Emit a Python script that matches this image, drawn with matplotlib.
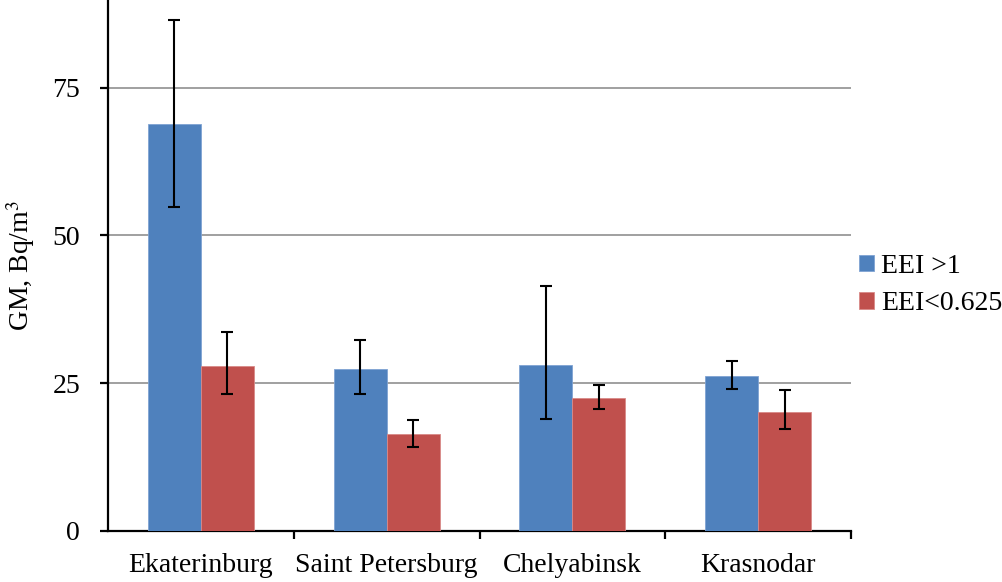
import numpy as np
import matplotlib

matplotlib.use("Agg")
import matplotlib.pyplot as plt

plt.rcParams["font.family"] = ["Liberation Serif", "DejaVu Serif"]
plt.rcParams["mathtext.fontset"] = "stix"

cities = ["Ekaterinburg", "Saint Petersburg", "Chelyabinsk", "Krasnodar"]
series_names = ["EEI >1", "EEI<0.625"]

gm_high = [68.8, 27.4, 28.0, 26.2]
gm_high_lo = [54.8, 23.2, 19.0, 24.0]
gm_high_hi = [86.5, 32.3, 41.5, 28.8]

gm_low = [27.9, 16.4, 22.5, 20.2]
gm_low_lo = [23.2, 14.2, 20.6, 17.2]
gm_low_hi = [33.7, 18.8, 24.7, 23.8]

y_ticks = [0, 25, 50, 75]

BLUE = "#4F81BD"
RED = "#C0504D"


def err(vals, lo, hi):
    vals = np.array(vals)
    return np.vstack([vals - np.array(lo), np.array(hi) - vals])


fig = plt.figure(figsize=(10.02, 5.82), dpi=100)
ax = fig.add_axes([108 / 1002, 51 / 582, 743 / 1002, 531 / 582])

x = np.arange(len(cities))
w = 0.285
ekw = dict(ecolor="black", elinewidth=1.5, capsize=4, capthick=1.5)
ax.bar(x - w / 2, gm_high, w, color=BLUE, edgecolor="#7fa3d3", linewidth=0.6,
       yerr=err(gm_high, gm_high_lo, gm_high_hi), error_kw=ekw,
       label=series_names[0], zorder=3)
ax.bar(x + w / 2, gm_low, w, color=RED, edgecolor="#d98a88", linewidth=0.6,
       yerr=err(gm_low, gm_low_lo, gm_low_hi), error_kw=ekw,
       label=series_names[1], zorder=3)

ax.set_xlim(-0.5, 3.5)
ax.set_ylim(0, 89.8)
ax.set_yticks(y_ticks)
ax.yaxis.grid(True, color="#a0a0a0", lw=1.4, zorder=0)
ax.set_axisbelow(True)

ax.set_xticks(x)
ax.set_xticklabels(cities)
ax.set_xticks([0.5, 1.5, 2.5, 3.5], minor=True)
ax.tick_params(axis="x", which="major", length=0, pad=16, labelsize=20)
ax.tick_params(axis="x", which="minor", length=6, width=1.6, direction="out")
ax.tick_params(axis="y", length=6, width=1.6, pad=14, labelsize=20)

for s in ("top", "right"):
    ax.spines[s].set_visible(False)
for s in ("left", "bottom"):
    ax.spines[s].set_linewidth(1.6)

ax.set_ylabel("GM, Bq/m$^3$", fontsize=20, labelpad=11)

fig.legend(loc="center left", bbox_to_anchor=(0.857, 0.51), frameon=False,
           fontsize=20, handlelength=0.55, handleheight=0.55, handletextpad=0.25,
           labelspacing=0.45, borderpad=0, borderaxespad=0)

fig.savefig("out.png", dpi=100)
